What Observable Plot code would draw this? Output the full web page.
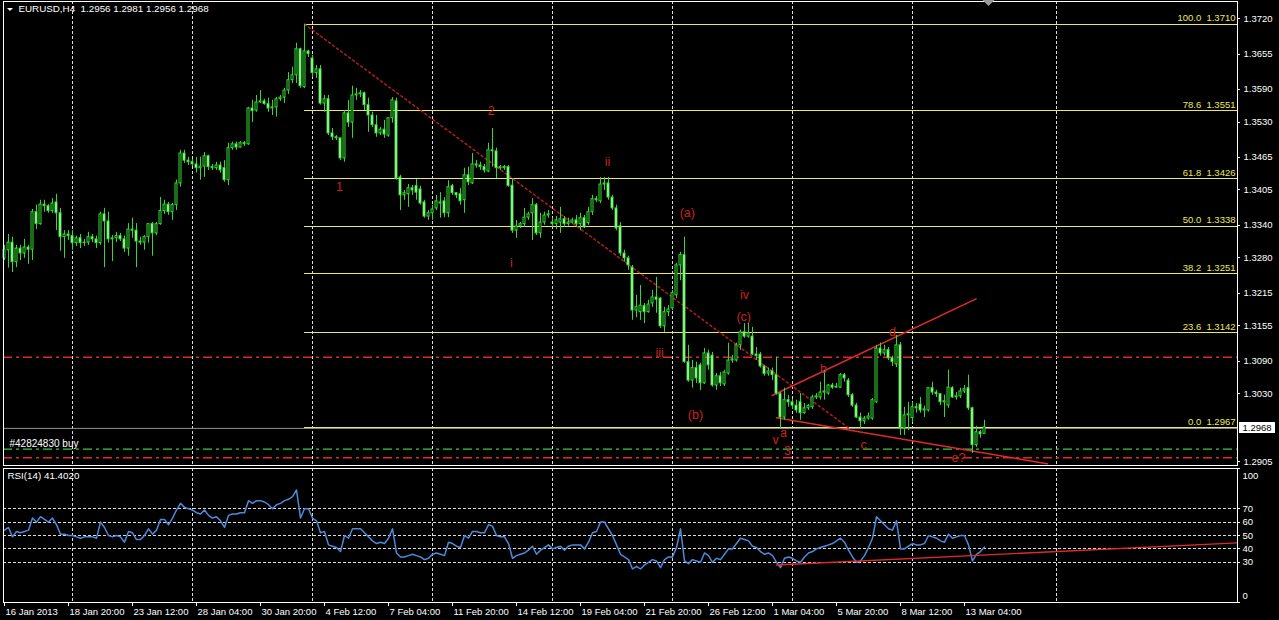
<!DOCTYPE html>
<html><head><meta charset="utf-8">
<script src="https://cdn.jsdelivr.net/npm/d3@7"></script>
<script src="https://cdn.jsdelivr.net/npm/@observablehq/plot@0.6"></script>
<style>
html,body{margin:0;padding:0;background:#000;width:1279px;height:620px;overflow:hidden;}
#wrap{position:relative;width:1279px;height:620px;background:#000;}
#main{position:absolute;left:0;top:0;}
#rsi{position:absolute;left:0;top:467px;}
svg{display:block;}
</style></head><body><div id="wrap"><div id="main"></div><div id="rsi"></div></div>
<script>
// ---------------- DATA ----------------
const symbolName = "EURUSD,H4";
const symbolQuote = "1.2956 1.2981 1.2956 1.2968";
const rsiTitle = "RSI(14) 41.4020";
const orderLabel = "#42824830 buy";

const open = [
1.3279,1.3294,1.3308,1.3272,1.3297,1.3288,1.3299,1.3295,1.3364,1.3342,
1.3378,1.3375,1.3366,1.3382,1.3362,1.3318,1.3323,1.3320,1.3307,1.3316,
1.3307,1.3308,1.3318,1.3314,1.3307,1.3360,1.3347,1.3314,1.3316,1.3320,
1.3314,1.3297,1.3332,1.3330,1.3310,1.3308,1.3318,1.3342,1.3325,1.3342,
1.3366,1.3378,1.3364,1.3377,1.3417,1.3472,1.3459,1.3456,1.3452,1.3445,
1.3448,1.3467,1.3447,1.3445,1.3450,1.3445,1.3423,1.3482,1.3489,1.3483,
1.3491,1.3489,1.3555,1.3551,1.3566,1.3568,1.3563,1.3555,1.3557,1.3572,
1.3575,1.3588,1.3607,1.3616,1.3664,1.3594,1.3660,1.3647,1.3620,1.3627,
1.3564,1.3572,1.3509,1.3502,1.3500,1.3463,1.3546,1.3529,1.3579,1.3581,
1.3583,1.3561,1.3542,1.3524,1.3509,1.3516,1.3505,1.3537,1.3568,1.3428,
1.3395,1.3397,1.3408,1.3412,1.3406,1.3382,1.3356,1.3362,1.3371,1.3382,
1.3384,1.3362,1.3412,1.3399,1.3397,1.3386,1.3432,1.3417,1.3452,1.3450,
1.3447,1.3439,1.3478,1.3476,1.3445,1.3447,1.3447,1.3413,1.3330,1.3338,
1.3342,1.3354,1.3362,1.3377,1.3325,1.3345,1.3358,1.3345,1.3342,1.3345,
1.3351,1.3342,1.3345,1.3349,1.3342,1.3353,1.3344,1.3364,1.3388,1.3384,
1.3415,1.3417,1.3391,1.3371,1.3338,1.3288,1.3279,1.3262,1.3183,1.3180,
1.3191,1.3180,1.3196,1.3207,1.3205,1.3154,1.3180,1.3187,1.3211,1.3266,
1.3285,1.3088,1.3054,1.3077,1.3082,1.3049,1.3104,1.3100,1.3045,1.3062,
1.3047,1.3067,1.3091,1.3091,1.3119,1.3143,1.3135,1.3135,1.3102,1.3102,
1.3080,1.3067,1.3071,1.3064,1.3030,1.2986,1.3018,1.3014,1.3008,1.3014,
1.2994,1.3003,1.3005,1.3023,1.3023,1.3032,1.3030,1.3045,1.3041,1.3041,
1.3064,1.3054,1.3027,1.3008,1.2986,1.2979,1.2984,1.2984,1.3014,1.3113,
1.3104,1.3110,1.3095,1.3084,1.3119,1.2966,1.2990,1.2985,1.3005,1.3010,
1.2999,1.2999,1.3040,1.3032,1.3029,1.3014,1.3008,1.3040,1.3023,1.3025,
1.3034,1.3040,1.3003,1.2935,1.2959,1.2956];

const high = [
1.3303,1.3323,1.3318,1.3303,1.3303,1.3314,1.3303,1.3369,1.3377,1.3386,
1.3386,1.3378,1.3389,1.3397,1.3371,1.3330,1.3330,1.3330,1.3320,1.3323,
1.3314,1.3327,1.3323,1.3320,1.3364,1.3371,1.3364,1.3321,1.3327,1.3325,
1.3320,1.3343,1.3353,1.3343,1.3318,1.3321,1.3343,1.3345,1.3345,1.3391,
1.3386,1.3382,1.3380,1.3423,1.3478,1.3478,1.3465,1.3461,1.3465,1.3465,
1.3474,1.3469,1.3452,1.3456,1.3456,1.3459,1.3491,1.3493,1.3493,1.3494,
1.3494,1.3557,1.3570,1.3579,1.3588,1.3572,1.3574,1.3570,1.3575,1.3579,
1.3592,1.3621,1.3631,1.3675,1.3666,1.3710,1.3662,1.3653,1.3634,1.3634,
1.3579,1.3579,1.3518,1.3505,1.3500,1.3551,1.3570,1.3596,1.3592,1.3588,
1.3585,1.3574,1.3548,1.3542,1.3520,1.3533,1.3538,1.3575,1.3574,1.3432,
1.3404,1.3415,1.3413,1.3424,1.3412,1.3386,1.3367,1.3377,1.3395,1.3400,
1.3391,1.3422,1.3415,1.3400,1.3408,1.3445,1.3447,1.3472,1.3459,1.3456,
1.3452,1.3491,1.3518,1.3482,1.3450,1.3450,1.3450,1.3426,1.3349,1.3345,
1.3371,1.3364,1.3389,1.3380,1.3362,1.3364,1.3367,1.3353,1.3356,1.3373,
1.3356,1.3353,1.3353,1.3358,1.3362,1.3358,1.3373,1.3395,1.3393,1.3428,
1.3428,1.3428,1.3395,1.3377,1.3345,1.3294,1.3283,1.3266,1.3211,1.3229,
1.3196,1.3202,1.3220,1.3244,1.3207,1.3189,1.3192,1.3220,1.3270,1.3290,
1.3318,1.3119,1.3091,1.3088,1.3086,1.3113,1.3110,1.3106,1.3067,1.3069,
1.3073,1.3123,1.3100,1.3123,1.3147,1.3159,1.3159,1.3152,1.3115,1.3106,
1.3082,1.3077,1.3077,1.3097,1.3032,1.3040,1.3027,1.3019,1.3018,1.3030,
1.3012,1.3010,1.3027,1.3030,1.3051,1.3073,1.3047,1.3049,1.3049,1.3067,
1.3067,1.3058,1.3030,1.3012,1.2994,1.2988,1.2994,1.3021,1.3119,1.3123,
1.3119,1.3115,1.3099,1.3137,1.3124,1.3005,1.3014,1.3014,1.3012,1.3023,
1.3007,1.3041,1.3051,1.3036,1.3030,1.3027,1.3073,1.3043,1.3032,1.3040,
1.3045,1.3064,1.3005,1.2970,1.2962,1.2981];

const low = [
1.3275,1.3261,1.3253,1.3262,1.3275,1.3279,1.3268,1.3275,1.3332,1.3340,
1.3364,1.3362,1.3362,1.3330,1.3292,1.3279,1.3312,1.3294,1.3301,1.3297,
1.3301,1.3303,1.3308,1.3297,1.3303,1.3262,1.3307,1.3273,1.3308,1.3310,
1.3290,1.3283,1.3316,1.3262,1.3303,1.3294,1.3307,1.3283,1.3321,1.3340,
1.3360,1.3358,1.3349,1.3367,1.3410,1.3454,1.3450,1.3448,1.3436,1.3423,
1.3428,1.3441,1.3441,1.3441,1.3436,1.3419,1.3413,1.3478,1.3478,1.3482,
1.3485,1.3487,1.3529,1.3548,1.3564,1.3561,1.3548,1.3542,1.3539,1.3568,
1.3564,1.3581,1.3601,1.3601,1.3592,1.3592,1.3649,1.3612,1.3610,1.3561,
1.3548,1.3505,1.3496,1.3496,1.3459,1.3456,1.3520,1.3500,1.3570,1.3575,
1.3551,1.3511,1.3520,1.3502,1.3505,1.3500,1.3502,1.3528,1.3423,1.3367,
1.3386,1.3373,1.3395,1.3386,1.3377,1.3353,1.3349,1.3349,1.3367,1.3353,
1.3354,1.3354,1.3395,1.3389,1.3377,1.3362,1.3413,1.3415,1.3445,1.3441,
1.3436,1.3437,1.3447,1.3426,1.3441,1.3441,1.3410,1.3325,1.3316,1.3334,
1.3336,1.3349,1.3312,1.3321,1.3316,1.3340,1.3353,1.3336,1.3332,1.3325,
1.3336,1.3338,1.3342,1.3336,1.3330,1.3334,1.3340,1.3358,1.3382,1.3380,
1.3404,1.3386,1.3367,1.3330,1.3283,1.3272,1.3257,1.3165,1.3170,1.3165,
1.3159,1.3178,1.3189,1.3178,1.3150,1.3143,1.3172,1.3183,1.3205,1.3238,
1.3086,1.3051,1.3040,1.3049,1.3036,1.3047,1.3073,1.3042,1.3036,1.3043,
1.3043,1.3064,1.3086,1.3088,1.3110,1.3132,1.3132,1.3100,1.3091,1.3077,
1.3062,1.3062,1.3054,1.3027,1.2966,1.2981,1.3005,1.3001,1.2994,1.2981,
1.2992,1.2999,1.3001,1.3019,1.3018,1.3018,1.3027,1.3038,1.3040,1.3040,
1.3051,1.3023,1.3005,1.2984,1.2966,1.2973,1.2981,1.2981,1.3012,1.3099,
1.3099,1.3091,1.3080,1.3078,1.2953,1.2953,1.2962,1.2977,1.2994,1.2994,
1.2986,1.2996,1.3027,1.3023,1.3008,1.2986,1.3003,1.3021,1.3018,1.3021,
1.3030,1.2999,1.2920,1.2931,1.2948,1.2956];

const close = [
1.3294,1.3308,1.3272,1.3297,1.3288,1.3299,1.3295,1.3364,1.3342,1.3378,
1.3375,1.3366,1.3380,1.3362,1.3318,1.3323,1.3320,1.3307,1.3316,1.3307,
1.3308,1.3318,1.3314,1.3307,1.3360,1.3347,1.3314,1.3316,1.3320,1.3314,
1.3297,1.3332,1.3330,1.3310,1.3308,1.3318,1.3342,1.3325,1.3342,1.3366,
1.3378,1.3364,1.3377,1.3417,1.3472,1.3459,1.3456,1.3452,1.3445,1.3448,
1.3467,1.3447,1.3445,1.3450,1.3441,1.3423,1.3482,1.3489,1.3483,1.3491,
1.3489,1.3555,1.3550,1.3566,1.3568,1.3563,1.3555,1.3557,1.3572,1.3575,
1.3588,1.3607,1.3616,1.3664,1.3596,1.3660,1.3655,1.3620,1.3627,1.3564,
1.3572,1.3509,1.3502,1.3500,1.3463,1.3546,1.3529,1.3579,1.3581,1.3583,
1.3561,1.3542,1.3524,1.3509,1.3516,1.3507,1.3537,1.3570,1.3426,1.3395,
1.3399,1.3408,1.3404,1.3400,1.3380,1.3356,1.3362,1.3369,1.3384,1.3380,
1.3362,1.3410,1.3399,1.3395,1.3384,1.3432,1.3419,1.3452,1.3450,1.3447,
1.3441,1.3478,1.3476,1.3445,1.3447,1.3445,1.3412,1.3330,1.3338,1.3342,
1.3354,1.3360,1.3377,1.3325,1.3345,1.3358,1.3360,1.3342,1.3349,1.3351,
1.3342,1.3345,1.3349,1.3342,1.3353,1.3336,1.3364,1.3388,1.3386,1.3415,
1.3417,1.3391,1.3371,1.3334,1.3288,1.3279,1.3266,1.3183,1.3189,1.3192,
1.3180,1.3194,1.3207,1.3203,1.3154,1.3180,1.3185,1.3215,1.3266,1.3285,
1.3088,1.3054,1.3077,1.3058,1.3049,1.3104,1.3082,1.3045,1.3062,1.3049,
1.3069,1.3091,1.3093,1.3119,1.3143,1.3135,1.3141,1.3102,1.3099,1.3080,
1.3066,1.3071,1.3064,1.3030,1.2986,1.3018,1.3014,1.3008,1.2999,1.2994,
1.3003,1.3007,1.3023,1.3025,1.3032,1.3034,1.3045,1.3041,1.3043,1.3064,
1.3058,1.3027,1.3008,1.2986,1.2979,1.2984,1.2988,1.3018,1.3113,1.3104,
1.3110,1.3095,1.3088,1.3119,1.2966,1.2990,1.2992,1.3005,1.3003,1.2999,
1.3001,1.3040,1.3032,1.3029,1.3014,1.3016,1.3041,1.3023,1.3025,1.3034,
1.3038,1.3003,1.2935,1.2959,1.2955,1.2968];

const rsi = [
54,56,49,53,52,53,54,63,60,64, 62,60,63,58,51,51,50,50,49,48,
49,49,49,48,60,56,50,49,50,49, 45,53,52,47,47,50,55,51,54,62,
62,58,63,69,74,71,70,69,67,66, 69,65,63,64,61,56,65,66,66,67,
67,76,74,76,76,75,73,70,73,74, 76,77,79,84,63,70,70,63,61,52,
53,43,42,41,38,50,48,55,55,55, 52,49,46,44,45,44,48,55,37,34,
34,35,36,35,34,32,33,36,37,36, 35,45,44,42,41,50,48,53,53,52,
52,58,57,50,49,49,44,33,35,36, 37,39,42,36,39,41,43,40,41,42,
39,42,43,43,43,40,45,52,53,60, 60,55,50,43,36,34,32,25,27,25,
28,30,32,31,26,32,34,34,41,55, 31,29,32,31,30,37,35,30,33,32,
36,40,40,44,48,47,46,42,41,38, 36,37,35,30,26,33,34,33,31,30,
34,37,38,40,41,42,43,44,46,48, 45,39,34,30,31,35,41,48,64,61,
58,55,54,61,40,40,42,44,43,43, 44,50,49,48,46,45,51,48,49,50,
50,43,31,36,38,41.4];

const dateLabels = ["16 Jan 2013","18 Jan 20:00","23 Jan 12:00","28 Jan 04:00","30 Jan 20:00","4 Feb 12:00","7 Feb 04:00","11 Feb 20:00","14 Feb 12:00","19 Feb 04:00","21 Feb 20:00","26 Feb 12:00","1 Mar 04:00","5 Mar 20:00","8 Mar 12:00","13 Mar 04:00"];
const dateLabelBars = [0,16,32,48,64,80,96,112,128,144,160,176,192,208,224,240];
const gridBars = [17,47,77,107,137,167,197,227,263];
const priceTicks = [1.3720,1.3655,1.3590,1.3530,1.3465,1.3405,1.3340,1.3280,1.3215,1.3155,1.3090,1.3030,1.2905];
const fibRatios = [100.0,78.6,61.8,50.0,38.2,23.6,0.0];
const fibPrices = [1.3710,1.3551,1.3426,1.3338,1.3251,1.3142,1.2967];
const fibStartBar = 75;
const fibDiagBars = [75,211];
const fibDiagPrices = [1.3710,1.2967];
const orderPrice = 1.2966;
const redLevels = [1.3097,1.2912];
const greenLevels = [1.2928];
const triUpperBars = [191.9,242.9];
const triUpperPrices = [1.30265,1.32045];
const triLowerBars = [193,260.7];
const triLowerPrices = [1.29854,1.29008];
const waveText = ["1","2","i","ii","(a)","iii","iv","(c)","(b)","v","a","3","b","c","d","e?"];
const waveBars = [83.75,121.7,126.75,150.75,170.7,163.8,185,184.8,172.75,192.75,194.75,195.75,204.75,214.75,222,238.5];
const wavePrices = [1.3410,1.3550,1.3270,1.3456,1.3363,1.3105,1.3211,1.3172,1.2990,1.2944,1.2957,1.2924,1.3076,1.2936,1.3143,1.2911];
const rsiLevels = [70,60,50,40,30];
const rsiAxis = [100,70,60,50,40,30,0];
const rsiTrendBars = [193,308.25];
const rsiTrendValues = [28,44.5];
const lastClose = 1.2968;

// ---------------- BUILD ----------------
const W = 1279;
const FONT = "'Liberation Sans', Arial, sans-serif";
const GREEN = "#33d933", YELLOW = "#ecea5a", RED = "#e02a2a", DRED = "#b81c1c";
const GRID = "#dcdcdc";
const CRISP = "crispEdges";
const xDomain = [-0.25, 308.25];
const yDomain = [1.28977, 1.37519];

const bars = open.map((o, i) => ({i, open: o, high: high[i], low: low[i], close: close[i]}));
const bulls = bars.filter(d => d.close >= d.open);
const bears = bars.filter(d => d.close < d.open);
const fib = fibRatios.map((r, k) => ({ratio: r, price: fibPrices[k]}));
const fibDiag = fibDiagBars.map((b, k) => ({bar: b, price: fibDiagPrices[k]}));
const triUpper = triUpperBars.map((b, k) => ({bar: b, price: triUpperPrices[k]}));
const triLower = triLowerBars.map((b, k) => ({bar: b, price: triLowerPrices[k]}));
const waves = waveText.map((t, k) => ({label: t, bar: waveBars[k], price: wavePrices[k]}));
const rsiData = rsi.map((v, i) => ({i, v}));
const rsiTrend = rsiTrendBars.map((b, k) => ({bar: b, v: rsiTrendValues[k]}));
const dash = "9,4,3,4";

const main = Plot.plot({
  width: W, height: 467,
  marginLeft: 3, marginRight: 42, marginTop: 1, marginBottom: 2,
  style: {background: "#000", color: "#fff", fontFamily: FONT, fontSize: "9.5px", overflow: "visible"},
  x: {domain: xDomain, axis: null},
  y: {domain: yDomain, axis: null},
  marks: [
    Plot.ruleX(gridBars, {x: d => d, stroke: GRID, strokeDasharray: "3,2", shapeRendering: CRISP}),
    Plot.ruleY([orderPrice], {y: d => d, stroke: "#939393"}),
    Plot.ruleY(redLevels, {y: d => d, stroke: RED, strokeDasharray: dash, strokeWidth: 1.5}),
    Plot.ruleY(greenLevels, {y: d => d, stroke: "#3ccc3c", strokeDasharray: dash, strokeWidth: 1.3}),
    Plot.ruleY(fib, {y: "price", x1: fibStartBar, x2: xDomain[1], stroke: YELLOW, shapeRendering: CRISP}),
    Plot.text(fib, {x: xDomain[1], y: "price", text: d => d.ratio.toFixed(1) + "\u00a0\u00a0" + d.price.toFixed(4),
      textAnchor: "end", dx: -2, dy: -6, fill: YELLOW, fontSize: 9.5}),
    Plot.line(fibDiag, {x: "bar", y: "price", stroke: DRED, strokeDasharray: "2,3"}),
    Plot.line(triUpper, {x: "bar", y: "price", stroke: RED}),
    Plot.line(triLower, {x: "bar", y: "price", stroke: RED, clip: true}),
    Plot.ruleX(bars, {x: "i", y1: "low", y2: "high", stroke: GREEN}),
    Plot.rect(bulls, {x1: d => d.i - 0.25, x2: d => d.i + 0.25, y1: "open", y2: "close", fill: "#000", stroke: GREEN}),
    Plot.rect(bears, {x1: d => d.i - 0.25, x2: d => d.i + 0.25, y1: "open", y2: "close", fill: "#e4ffe0", stroke: GREEN}),
    Plot.text(waves, {x: "bar", y: "price", text: "label", fill: "#cc2020", fontSize: 12.5}),
    Plot.text([symbolName + "\u00a0\u00a0" + symbolQuote], {frameAnchor: "top-left", dx: 15, dy: 4, fill: "#fff", fontSize: 9.8}),
    Plot.text([orderLabel], {x: xDomain[0], y: orderPrice, dx: 6, dy: 15, textAnchor: "start", fill: "#fff", fontSize: 10}),
    Plot.ruleY(priceTicks, {y: d => d, x1: xDomain[1], x2: xDomain[1] + 0.75, stroke: "#fff", shapeRendering: CRISP}),
    Plot.text(priceTicks, {x: xDomain[1], y: d => d, text: d => d.toFixed(4), textAnchor: "start", dx: 6, fill: "#fff", fontSize: 9.5}),
    Plot.frame({stroke: "#fff", shapeRendering: CRISP})
  ]
});
document.getElementById("main").appendChild(main);

// header triangle, current price box and shift marker, positioned through the same linear mappings
{
  const yS = d3.scaleLinear(yDomain, [465, 1]);
  const xS = d3.scaleLinear(xDomain, [3, 1237]);
  const svg = d3.select(main);
  svg.append("path").attr("d", "M7,8L13,8L10,11Z").attr("fill", "#fff");
  const yy = yS(lastClose);
  svg.append("rect").attr("x", 1239).attr("y", Math.round(yy) - 5).attr("width", 36).attr("height", 11).attr("fill", "#fff");
  svg.append("text").attr("x", 1257).attr("y", Math.round(yy) + 0.5).attr("dy", "0.34em").attr("text-anchor", "middle")
    .attr("fill", "#000").style("font", "9.5px " + FONT).text(lastClose.toFixed(4));
  const sx = xS(bars.length) + 0.5;
  svg.append("path").attr("d", `M${sx - 6},0L${sx + 6},0L${sx},6Z`).attr("fill", "#9a9a9a");
}

const rsiPlot = Plot.plot({
  width: W, height: 153,
  marginLeft: 3, marginRight: 42, marginTop: 1, marginBottom: 18,
  style: {background: "#000", color: "#fff", fontFamily: FONT, fontSize: "9.5px", overflow: "visible"},
  x: {domain: xDomain, axis: null},
  y: {domain: [0, 100], axis: null},
  marks: [
    Plot.ruleX(gridBars, {x: d => d, stroke: GRID, strokeDasharray: "3,2", shapeRendering: CRISP}),
    Plot.ruleY(rsiLevels, {y: d => d, stroke: GRID, strokeDasharray: "3,2", shapeRendering: CRISP}),
    Plot.line(rsiData, {x: "i", y: "v", stroke: "#4d8ad8"}),
    Plot.line(rsiTrend, {x: "bar", y: "v", stroke: RED, strokeWidth: 1.3}),
    Plot.text([rsiTitle], {frameAnchor: "top-left", dx: 4, dy: 4, fill: "#fff", fontSize: 9.8}),
    Plot.ruleY(rsiAxis, {y: d => d, x1: xDomain[1], x2: xDomain[1] + 0.75, stroke: "#fff", shapeRendering: CRISP}),
    Plot.text(rsiAxis.filter(v => v > 0 && v < 100), {x: xDomain[1], y: d => d, text: d => String(d), textAnchor: "start", dx: 5, fill: "#fff", fontSize: 9.5}),
    Plot.text(rsiAxis.filter(v => v === 100), {x: xDomain[1], y: d => d, text: d => String(d), textAnchor: "start", dx: 5, dy: 7, fill: "#fff", fontSize: 9.5}),
    Plot.text(rsiAxis.filter(v => v === 0), {x: xDomain[1], y: d => d, text: d => String(d), textAnchor: "start", dx: 5, dy: -7, fill: "#fff", fontSize: 9.5}),
    Plot.ruleX(dateLabelBars, {x: d => d, y1: 0, y2: -3, stroke: "#fff", shapeRendering: CRISP}),
    Plot.text(dateLabelBars, {x: d => d, y: 0, text: (d, k) => dateLabels[k], textAnchor: "start", dx: 1, dy: 9, fill: "#fff", fontSize: 9.5}),
    Plot.frame({stroke: "#fff", shapeRendering: CRISP})
  ]
});
document.getElementById("rsi").appendChild(rsiPlot);
</script></body></html>
